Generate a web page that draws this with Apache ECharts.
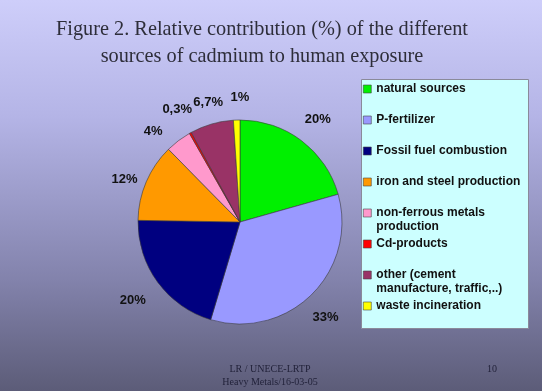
<!DOCTYPE html>
<html>
<head>
<meta charset="utf-8">
<script src="https://cdn.jsdelivr.net/npm/echarts@6/dist/echarts.min.js"></script>
<style>
html,body{margin:0;padding:0;}
#c{width:542px;height:391px;}
</style>
</head>
<body>
<div id="c"></div>
<script>
// ---- data ----
var categories = ['natural sources','P-fertilizer','Fossil fuel combustion','iron and steel production','non-ferrous metals production','Cd-products','other (cement manufacture, traffic,..)','waste incineration'];
var legendLabels = ['natural sources','P-fertilizer','Fossil fuel combustion','iron and steel production','non-ferrous metals\nproduction','Cd-products','other (cement\nmanufacture, traffic,..)','waste incineration'];
var values = [20, 33, 20, 12, 4, 0.3, 6.7, 1];
var valueLabels = ['20%','33%','20%','12%','4%','0,3%','6,7%','1%'];
var colors = ['#00f000','#9999ff','#000080','#ff9900','#ff99cc','#ff0000','#993366','#ffff00'];

var chart = echarts.init(document.getElementById('c'));

// label nudges (styling only, mimics the original's label placement)
var nudge = {'P-fertilizer':[-5,3], 'Fossil fuel combustion':[-3,2], 'iron and steel production':[3,8],
  'non-ferrous metals production':[-9,12], 'other (cement manufacture, traffic,..)':[4,4], 'waste incineration':[4,4]};

var pieData = categories.map(function(n,i){ return {name:n, value:values[i], itemStyle:{color:colors[i]}}; });
var labelData = categories.map(function(n,i){
  var d = {name:n, value:values[i]};
  if (nudge[n]) d.label = {offset:nudge[n]};
  return d;
});

function legendText(name){
  var i = categories.indexOf(name);
  var t = legendLabels[i];
  return t.indexOf('\n') >= 0 ? '\n' + t : '\n' + t + '\n';
}

chart.setOption({
  backgroundColor: {
    type:'linear', x:0, y:0, x2:0, y2:1,
    colorStops:[
      {offset:0, color:'#cecefa'},
      {offset:0.3, color:'#b4b4e6'},
      {offset:0.56, color:'#9595c2'},
      {offset:0.72, color:'#8282ab'},
      {offset:1, color:'#5c5c78'}
    ]
  },
  animation:false,
  title:{
    text:'Figure 2. Relative contribution (%) of the different\nsources of cadmium to human exposure',
    left:262, top:16, padding:0, textAlign:'center',
    textStyle:{fontFamily:'Liberation Serif', fontSize:20.3, fontWeight:'normal', color:'#2e2e3a', lineHeight:27}
  },
  graphic:[
    {type:'rect', z:0, shape:{x:361.5, y:79.5, width:167, height:249}, style:{fill:'#ccffff', stroke:'#8a8a9a', lineWidth:1}},
    {type:'text', z:1, x:270, y:369, style:{text:'LR / UNECE-LRTP', font:'10px "Liberation Serif"', fill:'#22223a', align:'center', verticalAlign:'middle'}},
    {type:'text', z:1, x:270, y:382, style:{text:'Heavy Metals/16-03-05', font:'10px "Liberation Serif"', fill:'#22223a', align:'center', verticalAlign:'middle'}},
    {type:'text', z:1, x:492, y:369, style:{text:'10', font:'10px "Liberation Serif"', fill:'#22223a', align:'center', verticalAlign:'middle'}}
  ],
  legend:{
    orient:'vertical', left:363, top:68, padding:0,
    itemWidth:8, itemHeight:8, itemGap:-11, icon:'rect',
    data: categories,
    formatter: legendText,
    selectedMode:false,
    itemStyle:{borderColor:'#444', borderWidth:0.6},
    textStyle:{fontFamily:'Liberation Sans', fontSize:12, fontWeight:'bold', color:'#111', lineHeight:14}
  },
  series:[
    {
      type:'pie', center:[240,222], radius:102, startAngle:90, clockwise:true,
      silent:true,
      itemStyle:{borderColor:'#3a3a3a', borderWidth:0.6},
      label:{show:false}, labelLine:{show:false},
      data: pieData
    },
    {
      type:'pie', center:[240,222], radius:[113,139], startAngle:90, clockwise:true,
      silent:true, avoidLabelOverlap:false, minShowLabelAngle:0,
      labelLayout:{hideOverlap:false},
      itemStyle:{color:'rgba(0,0,0,0)', borderWidth:0},
      label:{show:true, position:'inside', overflow:'none', formatter:function(p){return valueLabels[p.dataIndex];},
        fontFamily:'Liberation Sans', fontSize:13, fontWeight:'bold', color:'#111'},
      labelLine:{show:false},
      data: labelData
    }
  ]
});
</script>
</body>
</html>
